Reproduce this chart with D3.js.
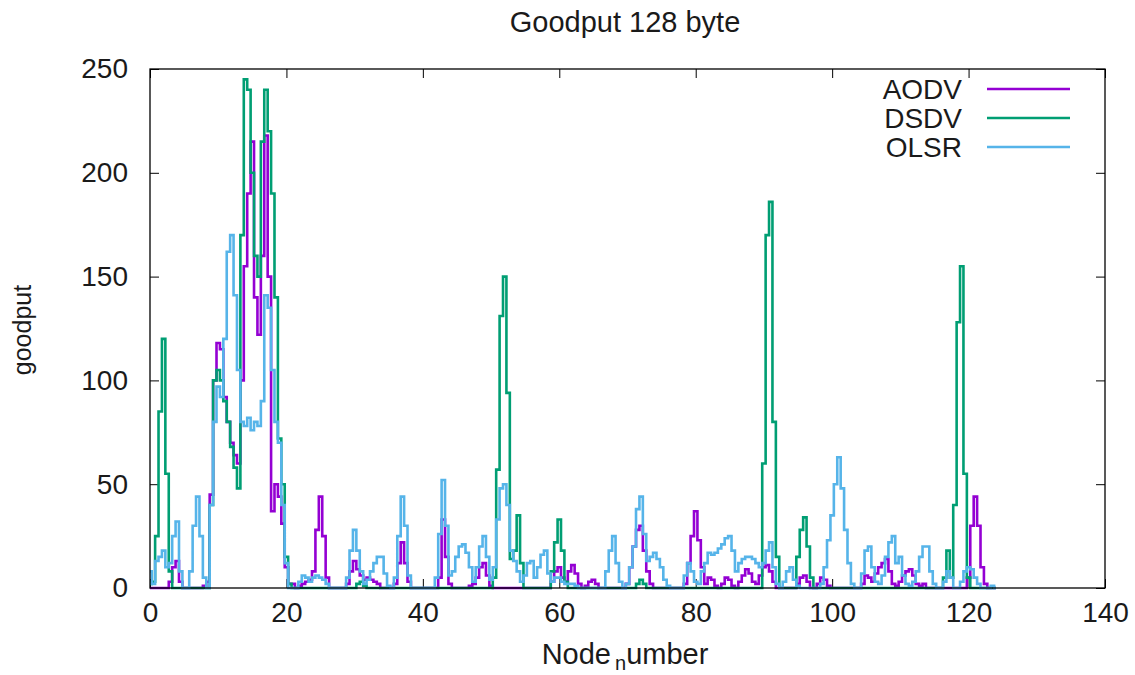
<!DOCTYPE html>
<html>
<head>
<meta charset="utf-8">
<script src="https://cdn.jsdelivr.net/npm/d3@7"></script>
<style>
body { margin: 0; background: #fff; }
text { font-family: "Liberation Sans", Arial, sans-serif; fill: #1a1a1a; }
</style>
</head>
<body>
<script>
var margin = {top: 69, right: 30, bottom: 87, left: 150},
    width = 1135 - margin.left - margin.right,
    height = 675 - margin.top - margin.bottom;

// node numbers are sampled every half unit from 0 to 124
var nodeStep = 0.5;

var aodv = [
    0,0,0,0,0,0,3,10,13,3, 0,0,0,0,0,0,1,3,45,100,
    118,115,92,80,70,64,60,100,155,190, 215,140,122,160,218,150,37,50,44,31,
    10,2,2,0,1,2,3,4,8,28, 44,25,5,0,0,0,0,0,2,8,
    13,9,6,4,5,4,3,2,0,0, 0,0,2,12,22,12,3,0,0,0,
    0,0,0,0,0,5,33,15,2,0, 0,0,0,0,1,2,5,10,12,6,
    1,0,0,0,0,0,0,0,0,0, 0,0,0,0,0,0,0,0,3,8,
    10,5,3,8,11,7,2,0,1,3, 4,2,0,0,0,0,0,0,0,0,
    2,10,20,28,30,18,8,2,0,0, 0,0,0,0,0,0,0,2,12,25,
    37,23,10,2,5,4,1,0,2,5, 4,1,0,3,6,9,7,3,2,6,
    10,11,8,3,0,0,0,0,0,0, 2,5,6,3,0,0,2,5,4,1,
    0,0,0,0,0,0,0,0,0,2, 6,5,3,7,10,12,14,8,2,1,
    3,6,8,9,6,2,1,2,0,0, 0,0,0,0,0,0,0,0,0,0,
    5,30,44,30,10,2,0,0,0
];

var dsdv = [
    2,3,25,85,120,55,8,0,0,0, 0,0,0,0,0,0,0,0,40,100,
    105,100,90,80,68,58,48,170,245,240, 200,160,150,215,240,220,190,140,72,50,
    15,2,0,0,0,0,0,0,0,0, 0,0,0,0,0,0,0,0,0,0,
    0,2,3,1,0,0,0,0,0,0, 0,0,0,0,0,0,0,0,0,0,
    0,0,0,0,0,0,0,0,0,0, 0,0,0,0,0,0,0,0,0,0,
    0,5,57,131,150,94,14,18,35,12, 0,0,0,0,0,0,0,0,8,22,
    33,18,3,0,0,0,0,0,0,0, 0,0,0,0,0,0,0,0,0,0,
    0,0,0,2,4,2,0,0,0,0, 0,0,0,0,0,0,0,0,0,0,
    0,0,0,0,0,0,0,0,0,0, 0,0,0,0,0,0,0,0,0,0,
    60,170,186,80,15,0,0,0,0,0, 15,28,34,20,5,0,0,0,0,0,
    0,0,0,0,0,0,0,0,0,0, 0,0,0,0,0,0,0,0,0,0,
    0,0,0,0,0,0,0,0,0,0, 0,0,0,5,18,5,40,128,155,55,
    5,0,0,0,0,0,0,0,0
];

var olsr = [
    8,2,13,15,18,10,12,25,32,8, 0,0,8,30,44,25,5,0,40,80,
    97,92,120,162,170,141,105,80,78,82, 76,80,78,90,141,135,105,80,70,40,
    12,0,0,0,3,6,5,3,5,6, 5,4,2,0,0,0,0,0,5,18,
    28,18,8,2,4,8,12,15,15,7, 1,0,5,25,44,30,6,0,0,0,
    0,0,0,0,5,26,52,30,6,8, 15,20,21,17,10,3,10,20,25,15,
    4,10,33,48,50,40,18,13,8,3, 6,12,13,5,10,16,18,7,3,5,
    5,3,2,2,2,1,0,0,0,0, 0,0,0,0,8,18,25,12,3,0,
    2,10,20,38,44,26,13,15,17,14, 10,4,1,0,0,0,0,6,12,8,
    3,2,8,12,17,16,17,19,21,24, 25,18,8,12,14,15,15,14,12,10,
    12,18,22,10,2,0,3,8,10,4, 1,0,0,0,0,0,0,2,10,23,
    35,50,63,48,28,12,2,0,0,7, 18,20,10,3,2,6,15,22,25,12,
    15,6,2,1,3,8,15,20,20,8, 2,0,0,3,8,5,0,0,3,8,
    10,9,5,2,0,0,0,1,0
];

var seriesNames = ['AODV', 'DSDV', 'OLSR'];
var seriesColors = ['#9400d3', '#009e73', '#56b4e9'];
var xTicks = [0, 20, 40, 60, 80, 100, 120, 140];
var yTicks = [0, 50, 100, 150, 200, 250];

function to_points(values) {
    var pts = [];
    for (var i = 0; i < values.length; i++) {
        pts.push({x: i * nodeStep, y: values[i]});
    }
    return pts;
}

var series = [aodv, dsdv, olsr].map(to_points);

var xScale = d3.scaleLinear()
    .domain([0, 140])
    .range([0, width]);

var yScale = d3.scaleLinear()
    .domain([0, 250])
    .range([height, 0]);

var root = d3.select('body')
    .append('svg')
    .attr('width', width + margin.left + margin.right)
    .attr('height', height + margin.top + margin.bottom);

var svg = root.append('g')
    .attr('transform', 'translate(' + margin.left + ',' + margin.top + ')');

// ticks point inward, mirrored on top and right like gnuplot
svg.append('g')
    .attr('transform', 'translate(0,' + height + ')')
    .call(d3.axisBottom(xScale).tickValues(xTicks).tickSizeInner(-9).tickSizeOuter(0).tickPadding(14))
    .call(function(g) { g.select('.domain').remove(); });

svg.append('g')
    .call(d3.axisTop(xScale).tickValues(xTicks).tickSizeInner(-9).tickSizeOuter(0).tickFormat(''))
    .call(function(g) { g.select('.domain').remove(); });

svg.append('g')
    .call(d3.axisLeft(yScale).tickValues(yTicks).tickSizeInner(-9).tickSizeOuter(0).tickPadding(22))
    .call(function(g) { g.select('.domain').remove(); });

svg.append('g')
    .attr('transform', 'translate(' + width + ',0)')
    .call(d3.axisRight(yScale).tickValues(yTicks).tickSizeInner(-9).tickSizeOuter(0).tickFormat(''))
    .call(function(g) { g.select('.domain').remove(); });

svg.selectAll('.tick line').attr('stroke', '#000');
svg.selectAll('.tick text')
    .attr('fill', '#1a1a1a')
    .style('font-size', '28px')
    .style('font-family', '"Liberation Sans", Arial, sans-serif');

var line = d3.line()
    .x(function(d) { return xScale(d.x); })
    .y(function(d) { return yScale(d.y); })
    .curve(d3.curveStep);

svg.selectAll('.series')
    .data(series)
    .enter()
    .append('path')
    .attr('class', 'series')
    .attr('d', line)
    .attr('fill', 'none')
    .attr('stroke', function(d, i) { return seriesColors[i]; })
    .attr('stroke-width', 2.6);

// plot frame
svg.append('rect')
    .attr('width', width)
    .attr('height', height)
    .attr('fill', 'none')
    .attr('stroke', '#000')
    .attr('stroke-width', 1.3);

// legend, top right inside the frame
var legend = svg.selectAll('.legend')
    .data(seriesNames)
    .enter()
    .append('g')
    .attr('class', 'legend')
    .attr('transform', function(d, i) { return 'translate(0,' + (20 + i * 29) + ')'; });

legend.append('text')
    .attr('x', 812)
    .attr('dy', '0.35em')
    .attr('text-anchor', 'end')
    .style('font-size', '28px')
    .text(function(d) { return d; });

legend.append('line')
    .attr('x1', 837)
    .attr('x2', 920)
    .attr('stroke', function(d, i) { return seriesColors[i]; })
    .attr('stroke-width', 2.6);

root.append('text')
    .attr('x', 625)
    .attr('y', 32)
    .attr('text-anchor', 'middle')
    .style('font-size', '29px')
    .text('Goodput 128 byte');

root.append('text')
    .attr('transform', 'translate(31,330) rotate(-90)')
    .attr('text-anchor', 'middle')
    .style('font-size', '25px')
    .text('goodput');

var xlab = root.append('text')
    .attr('x', 625)
    .attr('y', 664)
    .attr('text-anchor', 'middle')
    .style('font-size', '29px');
xlab.append('tspan').text('Node');
xlab.append('tspan').attr('dy', 6).attr('dx', 4).style('font-size', '20px').text('n');
xlab.append('tspan').attr('dy', -6).text('umber');
</script>
</body>
</html>
